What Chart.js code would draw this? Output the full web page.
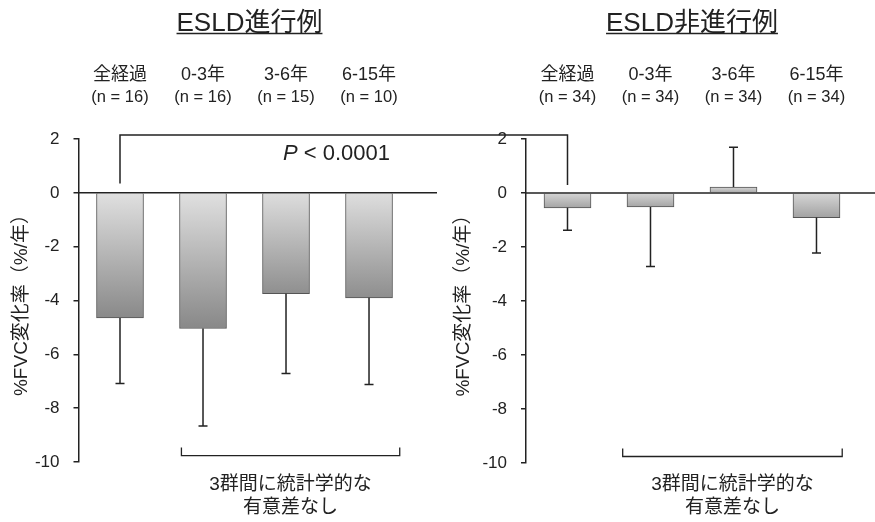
<!DOCTYPE html>
<html>
<head>
<meta charset="utf-8">
<script src="https://cdn.jsdelivr.net/npm/chart.js@4.4.1/dist/chart.umd.min.js"></script>
<style>
  html, body { margin: 0; padding: 0; background: #fff; }
  #wrap { position: relative; width: 875px; height: 522px; overflow: hidden; }
  canvas { position: absolute; top: 0; }
</style>
</head>
<body>
<div id="wrap">
  <canvas id="cL" width="440" height="522" style="left:0"></canvas>
  <canvas id="cR" width="435" height="522" style="left:440px"></canvas>
</div>
<script>
// ---- data ----
const categories = ['全経過', '0-3年', '3-6年', '6-15年'];
const xPositions = [0, 1, 2, 3];
const panelTitles = ['ESLD進行例', 'ESLD非進行例'];
const progressN = ['(n = 16)', '(n = 16)', '(n = 15)', '(n = 10)'];
const nonProgressN = ['(n = 34)', '(n = 34)', '(n = 34)', '(n = 34)'];
const progressMeans = [-4.65, -5.04, -3.75, -3.90];
const progressErrEnds = [-7.08, -8.66, -6.71, -7.12];
const nonProgressMeans = [-0.55, -0.52, 0.22, -0.91];
const nonProgressErrEnds = [-1.38, -2.72, 1.69, -2.22];
const yTickValues = [2, 0, -2, -4, -6, -8, -10];
const yTickLabels = ['2', '0', '-2', '-4', '-6', '-8', '-10'];
const yAxisTitle = '%FVC変化率（%/年）';
const pValueText = '< 0.0001';
const noteLines = ['3群間に統計学的な', '有意差なし'];

const FONT = '"Liberation Sans", "Noto Sans CJK JP", Arial, sans-serif';
const INK = '#222';

function barFill(ctx) {
  const chart = ctx.chart;
  const ys = chart.scales && chart.scales.y;
  if (!ys || ctx.type !== 'data') return '#bbbbbb';
  const v = ctx.parsed ? ctx.parsed.y : (ctx.raw && ctx.raw.y);
  const p0 = ys.getPixelForValue(0), p1 = ys.getPixelForValue(v);
  if (!isFinite(p0) || !isFinite(p1)) return '#bbbbbb';
  const top = Math.min(p0, p1), bot = Math.max(p0, p1);
  const frac = Math.min(1, (bot - top) / 130);
  const topV = Math.round(0xd4 + (0xe0 - 0xd4) * frac);
  const darkV = Math.round(0xa8 - (0xa8 - 0x88) * frac);
  const g = chart.ctx.createLinearGradient(0, top, 0, bot + 0.01);
  g.addColorStop(0, `rgb(${topV},${topV},${topV})`);
  g.addColorStop(1, `rgb(${darkV},${darkV},${darkV})`);
  return g;
}

function panelPlugin(cfg) {
  return {
    id: 'panelDeco',
    afterDatasetsDraw(chart) {
      const c = chart.ctx, xs = chart.scales.x, ys = chart.scales.y, area = chart.chartArea;
      c.save();
      c.strokeStyle = INK;
      c.lineWidth = 1.5;
      // error bars
      cfg.means.forEach((m, i) => {
        const x = xs.getPixelForValue(xPositions[i]);
        const y0 = ys.getPixelForValue(m), y1 = ys.getPixelForValue(cfg.errs[i]);
        c.beginPath();
        c.moveTo(x, y0); c.lineTo(x, y1);
        c.moveTo(x - 4.5, y1); c.lineTo(x + 4.5, y1);
        c.stroke();
      });
      // zero line
      const yz = ys.getPixelForValue(0);
      c.beginPath();
      c.moveTo(area.left, yz); c.lineTo(area.right, yz);
      c.stroke();
      // significance bracket part
      const yTop = ys.getPixelForValue(2.15);
      const xb = xs.getPixelForValue(0);
      c.beginPath();
      if (cfg.side === 'left') {
        c.moveTo(xb, ys.getPixelForValue(0.35));
        c.lineTo(xb, yTop);
        c.lineTo(chart.width, yTop);
      } else {
        c.moveTo(0, yTop);
        c.lineTo(xb, yTop);
        c.lineTo(xb, ys.getPixelForValue(0.3));
      }
      c.stroke();
      // bottom bracket
      const yb = ys.getPixelForValue(-9.76);
      const bx1 = xs.getPixelForValue(cfg.bracket[0]), bx2 = xs.getPixelForValue(cfg.bracket[1]);
      c.lineWidth = 1.3;
      c.beginPath();
      c.moveTo(bx1, yb - 8); c.lineTo(bx1, yb); c.lineTo(bx2, yb); c.lineTo(bx2, yb - 8);
      c.stroke();
      // note text
      c.fillStyle = INK;
      c.textAlign = 'center';
      c.textBaseline = 'middle';
      c.font = '19px ' + FONT;
      const bc = (bx1 + bx2) / 2;
      c.fillText(noteLines[0], bc, 485);
      c.fillText(noteLines[1], bc, 508);
      // panel title
      const tx = xs.getPixelForValue(cfg.titleCenter);
      c.font = '26px ' + FONT;
      c.textBaseline = 'alphabetic';
      c.fillText(cfg.title, tx, 31);
      const tw = c.measureText(cfg.title).width;
      c.lineWidth = 1.5;
      c.beginPath();
      c.moveTo(tx - tw / 2, 33.5); c.lineTo(tx + tw / 2, 33.5);
      c.stroke();
      // category labels and n
      c.textBaseline = 'middle';
      categories.forEach((lab, i) => {
        const x = xs.getPixelForValue(xPositions[i]);
        c.font = '18px ' + FONT;
        c.fillText(lab, x, 75);
        c.font = '16.5px ' + FONT;
        c.fillText(cfg.ns[i], x, 97);
      });
      // p value
      if (cfg.side === 'left') {
        c.textBaseline = 'alphabetic';
        c.textAlign = 'left';
        c.font = 'italic 22px ' + FONT;
        const px = 283;
        c.fillText('P', px, 160);
        const pw = c.measureText('P ').width;
        c.font = '22px ' + FONT;
        c.fillText(pValueText, px + pw, 160);
      }
      c.restore();
    }
  };
}

function makeChart(canvasId, means, cfg) {
  return new Chart(document.getElementById(canvasId), {
    type: 'bar',
    data: {
      datasets: [{
        data: xPositions.map((x, i) => ({ x: x, y: means[i] })),
        backgroundColor: barFill,
        borderColor: '#555',
        borderWidth: 1,
        barThickness: 47
      }]
    },
    options: {
      responsive: false,
      animation: false,
      events: [],
      layout: { padding: { top: 139, bottom: cfg.padBottom, left: 0, right: cfg.padRight } },
      plugins: { legend: { display: false }, tooltip: { enabled: false } },
      scales: {
        x: { type: 'linear', display: false, offset: false, grid: { offset: false }, min: -0.5, max: cfg.xMax },
        y: {
          min: -10, max: 2,
          afterBuildTicks: (s) => { s.ticks = yTickValues.map(v => ({ value: v })); },
          afterFit: (s) => { s.width = cfg.axisWidth; },
          ticks: {
            callback: (v) => yTickLabels[yTickValues.indexOf(v)],
            color: INK,
            font: { family: FONT, size: 17 },
            padding: 14
          },
          grid: { drawOnChartArea: false, drawTicks: true, tickLength: 5, color: INK, lineWidth: 1.5 },
          border: { display: true, color: INK, width: 1.5 },
          title: {
            display: true, text: yAxisTitle, color: INK,
            font: { family: FONT, size: 19 },
            padding: { top: cfg.titlePad, bottom: 0 }
          }
        }
      }
    },
    plugins: [panelPlugin(Object.assign({ means: means }, cfg))]
  });
}

makeChart('cL', progressMeans, {
  side: 'left', errs: progressErrEnds, ns: progressN, title: panelTitles[0],
  titleCenter: 1.56, bracket: [0.74, 3.37],
  padBottom: 60, padRight: 3, xMax: 3.819, axisWidth: 78.5, titlePad: 10
});
makeChart('cR', nonProgressMeans, {
  side: 'right', errs: nonProgressErrEnds, ns: nonProgressN, title: panelTitles[1],
  titleCenter: 1.5, bracket: [0.665, 3.31],
  padBottom: 59, padRight: 0, xMax: 3.705, axisWidth: 86, titlePad: 12
});
</script>
</body>
</html>
